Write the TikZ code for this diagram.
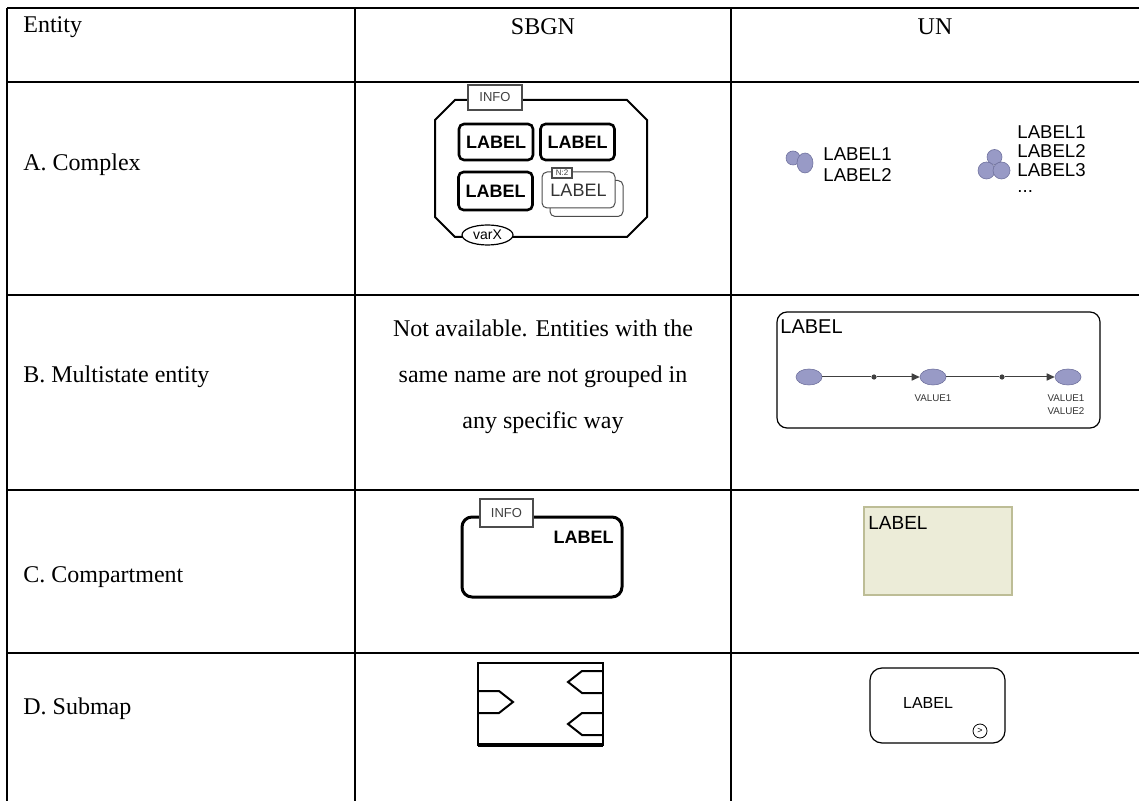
\documentclass[tikz,border=0pt]{standalone}
\usepackage{fontspec}
\setmainfont{Liberation Serif}
\setsansfont{Liberation Sans}
\usetikzlibrary{arrows.meta,shapes.geometric}
\definecolor{glyph}{HTML}{989AC6}
\definecolor{glyphline}{HTML}{70729E}
\definecolor{compfill}{HTML}{ECECD8}
\definecolor{compline}{HTML}{BDBD96}
\begin{document}
\begin{tikzpicture}[x=0.5pt,y=-0.5pt,
  tabline/.style={line width=1.3pt},
  celltext/.style={font=\fontsize{12}{14}\selectfont, inner sep=0pt},
  lbox/.style={draw, line width=1.3pt, rounded corners=2.5pt, fill=white, minimum width=37pt, minimum height=18pt, inner sep=0pt, font=\sffamily\bfseries\fontsize{9}{10}\selectfont},
  mbox/.style={draw=black!70, line width=0.5pt, rounded corners=2.5pt, fill=white, minimum width=36.5pt, minimum height=18pt, inner sep=0pt},
  infobox/.style={draw=black!70, line width=0.6pt, fill=white, inner sep=0pt, font=\sffamily\fontsize{6.5}{7}\selectfont, text=black!75},
  untext/.style={font=\sffamily\fontsize{9.3}{10.5}\selectfont, inner sep=0pt, anchor=west},
  valtext/.style={font=\sffamily\fontsize{4.9}{6}\selectfont, inner sep=0pt, text=black!80},
  glyphc/.style={fill=glyph, draw=glyphline, line width=0.3pt},
  stateell/.style={ellipse, fill=glyph, draw=glyphline, line width=0.3pt, minimum width=13pt, minimum height=8pt, inner sep=0pt},
  dotn/.style={circle, fill=black!75, minimum size=2.6pt, inner sep=0pt},
  msline/.style={line width=0.5pt, black!75},
  tagline/.style={line width=1pt}
]
\useasboundingbox (0,0) rectangle (1139,801);

% ---------- table ----------
\draw[tabline] (7,8) -- (1139,8);
\foreach \yy in {82,295,490,653} \draw[tabline] (7,\yy) -- (1139,\yy);
\foreach \xx in {7,355,731} \draw[tabline] (\xx,8) -- (\xx,801);

\node[celltext, anchor=west] (hEntity) at (23,27) {Entity};
\node[celltext] (hSBGN) at (543,27) {SBGN};
\node[celltext] (hUN) at (935,27) {UN};

\node[celltext, anchor=west] (rA) at (23,165) {A. Complex};
\node[celltext, anchor=west] (rB) at (23,377) {B. Multistate entity};
\node[celltext, anchor=west] (rC) at (23,577) {C. Compartment};
\node[celltext, anchor=west] (rD) at (23,709) {D. Submap};

% ---------- A SBGN complex ----------
\draw[line width=1pt] (455,100) -- (627,100) -- (647,120) -- (647,217) -- (627,237) -- (455,237) -- (435,217) -- (435,120) -- cycle;
\node[infobox, minimum width=27pt, minimum height=12.5pt] (info1) at (495,97.5) {INFO};
\node[lbox] (cl1) at (496,142) {LABEL};
\node[lbox] (cl2) at (577.5,142) {LABEL};
\node[lbox, minimum height=19pt] (cl3) at (495.5,191) {LABEL};
\node[mbox] (cl4b) at (586.5,198.5) {};
\node[mbox, font=\sffamily\fontsize{9}{10}\selectfont, text=black!80] (cl4) at (578.5,190) {LABEL};
\node[infobox, minimum width=10pt, minimum height=5pt, font=\sffamily\fontsize{4}{4}\selectfont] (n2) at (562,173) {N:2};
\node[ellipse, draw, line width=0.6pt, fill=white, minimum width=25.5pt, minimum height=10pt, inner sep=0pt, font=\sffamily\fontsize{7}{8}\selectfont] (varx) at (487.5,235) {varX};

% ---------- A UN complex ----------
\draw[glyphc] (793,158) circle[radius=7];
\draw[glyphc] (805,163) ellipse[x radius=8, y radius=10];
\node[untext] (ua1) at (823,154) {LABEL1};
\node[untext] (ua2) at (823,175) {LABEL2};

\draw[glyphc] (994.5,157) circle[radius=7.5];
\draw[glyphc] (986.5,170.5) circle[radius=8.5];
\draw[glyphc] (1001.5,170.5) circle[radius=8.5];
\node[untext] (ub1) at (1017,132.5) {LABEL1};
\node[untext] (ub2) at (1017,151.5) {LABEL2};
\node[untext] (ub3) at (1017,170.5) {LABEL3};
\node[untext] (ub4) at (1017,192) {...};

% ---------- B ----------
\node[align=center, font=\fontsize{12}{23}\selectfont, inner sep=0pt] (bsbgn) at (543,377)
  {Not available. Entities with the\\same name are not grouped in\\any specific way};

\draw[line width=0.6pt, rounded corners=5pt] (777,312) rectangle (1100,428);
\node[untext, font=\sffamily\fontsize{10}{11}\selectfont] (mlabel) at (780,327) {LABEL};
\node[stateell] (e1) at (809,377) {};
\node[stateell] (e2) at (933,377) {};
\node[stateell] (e3) at (1068,377) {};
\node[dotn] (d1) at (874,377) {};
\node[dotn] (d2) at (1002,377) {};
\draw[msline] (e1) -- (d1);
\draw[msline, -{Triangle[length=4pt,width=3.6pt]}] (d1) -- (e2);
\draw[msline] (e2) -- (d2);
\draw[msline, -{Triangle[length=4pt,width=3.6pt]}] (d2) -- (e3);
\node[valtext] (v1) at (933,398) {VALUE1};
\node[valtext] (v2) at (1066,398) {VALUE1};
\node[valtext] (v3) at (1066,411) {VALUE2};

% ---------- C ----------
\draw[line width=1.5pt, rounded corners=5pt] (462,517) rectangle (622,597);
\node[infobox, minimum width=26.5pt, minimum height=14pt] (info2) at (506.5,513) {INFO};
\node[font=\sffamily\bfseries\fontsize{9}{10}\selectfont, inner sep=0pt] (clabel) at (583.5,537) {LABEL};

\node[draw=compline, fill=compfill, line width=0.6pt, minimum width=74pt, minimum height=44pt, inner sep=0pt] (ucomp) at (938,551) {};
\node[untext, font=\sffamily\fontsize{9.5}{11}\selectfont] (uclabel) at (868,523) {LABEL};

% ---------- D ----------
\draw[line width=0.8pt] (478,663) rectangle (603,745);
\draw[line width=1.6pt] (478,745) -- (603,745);
\draw[tagline] (603,671) -- (582,671) -- (568,682) -- (582,693) -- (603,693);
\draw[tagline] (603,713) -- (582,713) -- (568,724) -- (582,735) -- (603,735);
\draw[tagline] (478,691) -- (499,691) -- (513,702) -- (499,713) -- (478,713);

\draw[line width=0.6pt, rounded corners=6pt] (870,668) rectangle (1005,743);
\node[font=\sffamily\fontsize{8}{9}\selectfont, inner sep=0pt] (sublabel) at (928,703) {LABEL};
\node[circle, draw, line width=0.4pt, minimum size=7pt, inner sep=0pt, font=\sffamily\fontsize{4.5}{5}\selectfont] (subgo) at (980,731) {>};
\end{tikzpicture}
\end{document}
